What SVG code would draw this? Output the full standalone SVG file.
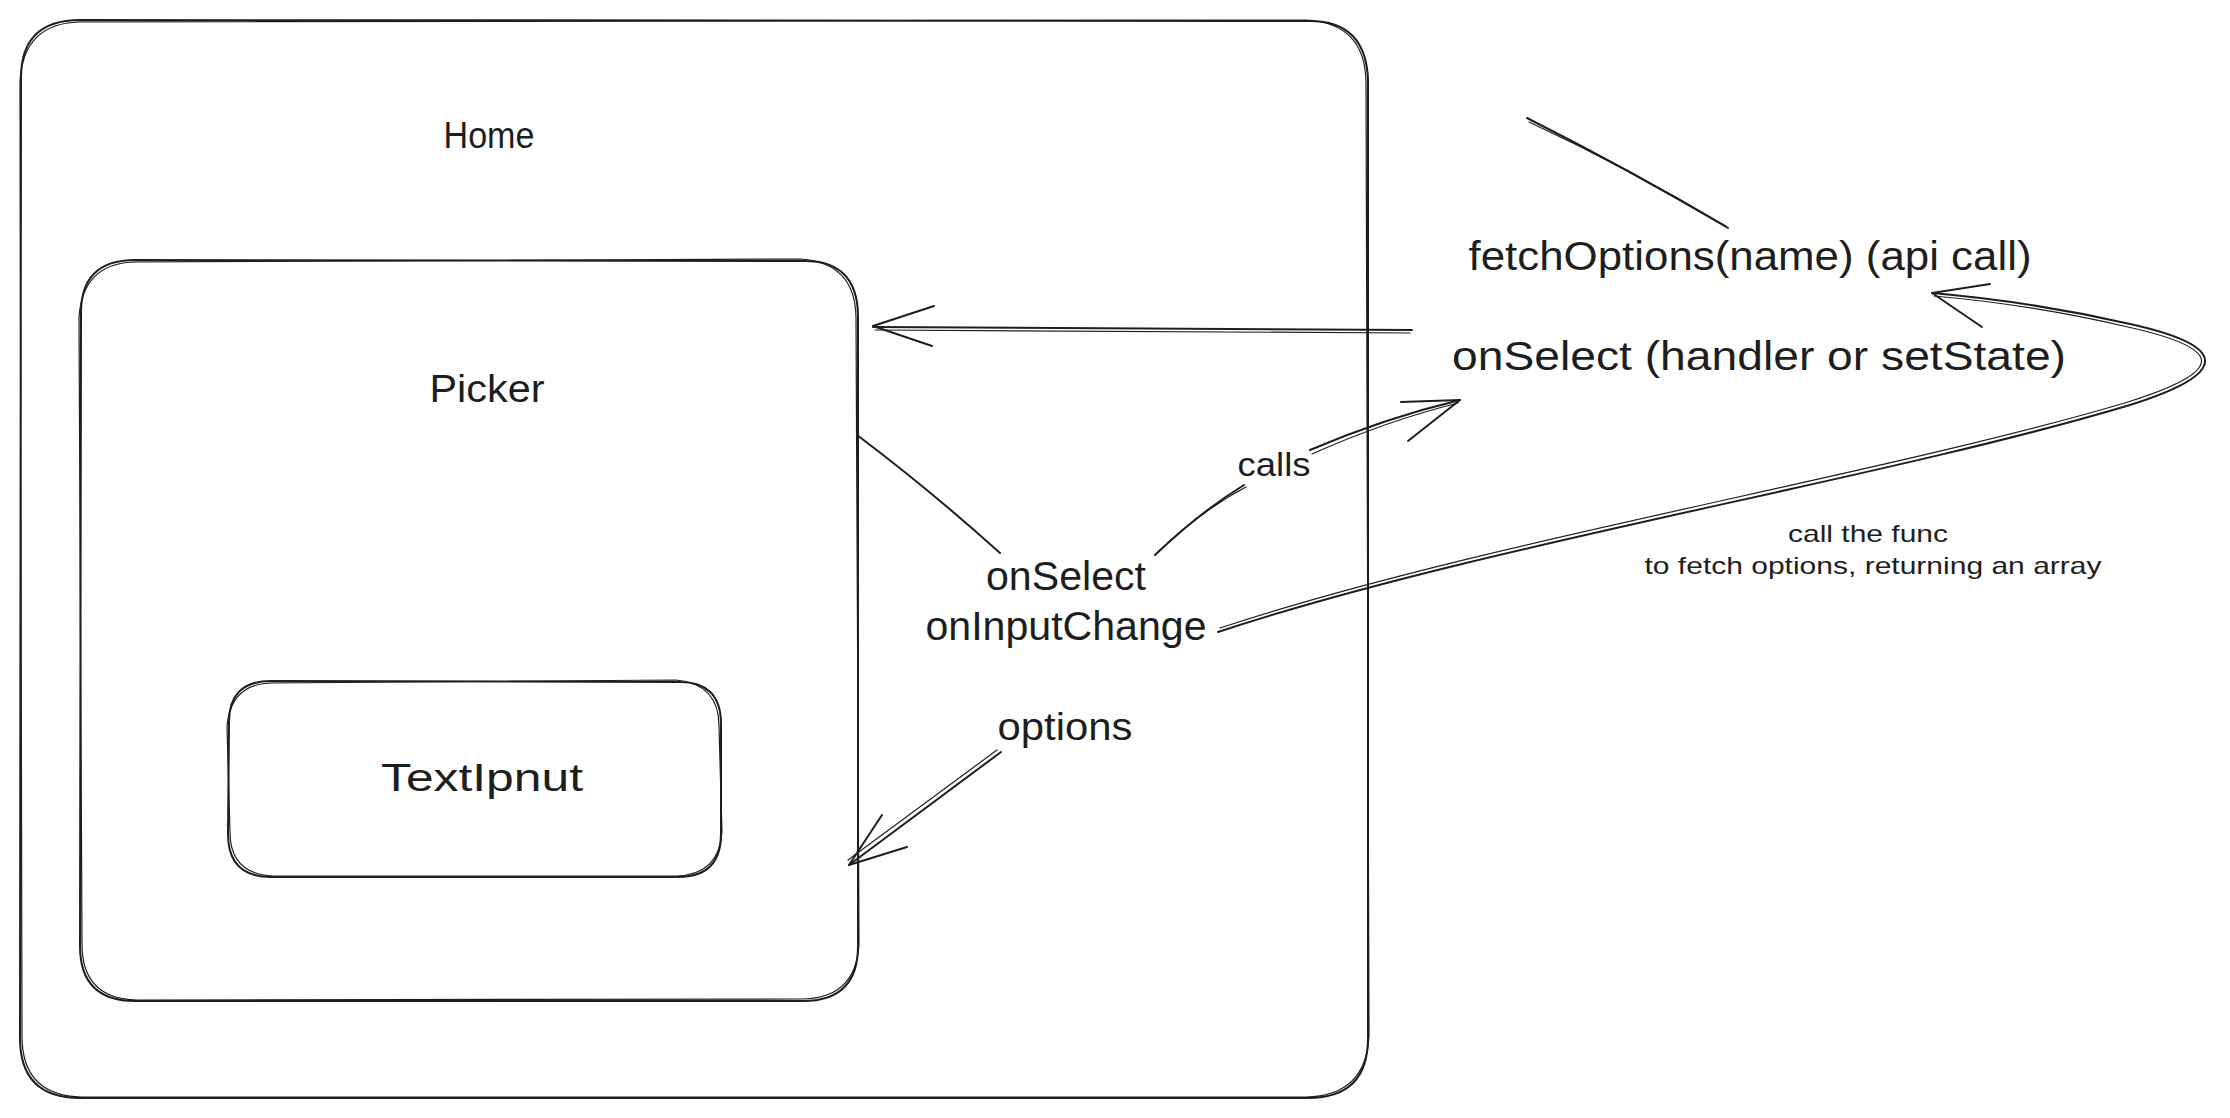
<svg xmlns="http://www.w3.org/2000/svg" width="2230" height="1118" viewBox="0 0 2230 1118">
<style>
.sk{fill:none;stroke:#1e1e1e;stroke-width:2;stroke-linecap:round;stroke-linejoin:round}
.sk2{fill:none;stroke:#1e1e1e;stroke-width:1.2;stroke-linecap:round;stroke-linejoin:round}
.t{font-family:"Liberation Sans","DejaVu Sans",sans-serif;fill:#1e1e1e;text-anchor:middle}
</style>
<rect width="2230" height="1118" fill="#ffffff"/>
<g id="home">
<path class="sk" d="M80 20 L1308 21 Q1366 20 1368 80 L1368 1038 Q1368 1098 1308 1098 L80 1098 Q20 1098 20 1038 L21 80 Q20 20 80 20 Z"/>
<path class="sk2" d="M82 22 L1306 20 Q1365 23 1366 82 L1369 1036 Q1366 1096 1306 1097 L82 1097 Q22 1096 22 1036 L20 82 Q23 22 82 22 Z"/>
<text class="t" x="489" y="148" font-size="36" textLength="91" lengthAdjust="spacingAndGlyphs">Home</text>
</g>
<g id="picker">
<path class="sk" d="M135 260 L803 261 Q857 260 858 315 L858 946 Q858 1001 803 1001 L135 1001 Q80 1001 80 946 L81 315 Q80 260 135 260 Z"/>
<path class="sk2" d="M137 262 L801 259 Q855 263 856 317 L859 944 Q856 999 801 999 L137 1000 Q82 999 82 944 L79 317 Q83 262 137 262 Z"/>
<text class="t" x="487" y="402" font-size="38" textLength="115" lengthAdjust="spacingAndGlyphs">Picker</text>
</g>
<g id="textinput">
<path class="sk" d="M271 681 L678 682 Q721 681 721 724 L721 834 Q721 877 678 877 L271 877 Q228 877 228 834 L229 724 Q228 681 271 681 Z"/>
<path class="sk2" d="M273 683 L676 680 Q719 684 719 726 L722 832 Q719 875 676 876 L273 876 Q230 874 230 832 L227 726 Q231 683 273 683 Z"/>
<text class="t" x="482" y="791" font-size="38" textLength="202" lengthAdjust="spacingAndGlyphs">TextIpnut</text>
</g>
<g id="fetchoptions">
<text class="t" x="1750" y="270" font-size="40" textLength="563" lengthAdjust="spacingAndGlyphs">fetchOptions(name) (api call)</text>
</g>
<g id="onselect-handler">
<text class="t" x="1759" y="370" font-size="40" textLength="614" lengthAdjust="spacingAndGlyphs">onSelect (handler or setState)</text>
</g>
<g id="props">
<text class="t" x="1066" y="590" font-size="40" textLength="160" lengthAdjust="spacingAndGlyphs">onSelect</text>
<text class="t" x="1066" y="640" font-size="40" textLength="281" lengthAdjust="spacingAndGlyphs">onInputChange</text>
</g>
<g id="note">
<text class="t" x="1868" y="542" font-size="24" textLength="160" lengthAdjust="spacingAndGlyphs">call the func</text>
<text class="t" x="1873" y="574" font-size="24" textLength="457" lengthAdjust="spacingAndGlyphs">to fetch options, returning an array</text>
</g>
<g id="connectors">
<path class="sk" d="M857 435 Q930 490 1000 553"/>
<path class="sk" d="M1155 555 Q1200 512 1244 485"/>
<path class="sk2" d="M1157 553 Q1202 510 1246 487"/>
<path class="sk" d="M1310 450 Q1385 418 1460 400"/>
<path class="sk2" d="M1312 454 Q1386 421 1458 403"/>
<path class="sk" d="M1401 402 L1460 400 L1408 441"/>
<text class="t" x="1274" y="476" font-size="34" textLength="73" lengthAdjust="spacingAndGlyphs">calls</text>
<path class="sk" d="M1218 632 C1480 545 1880 480 2130 405 C2235 372 2225 345 2130 324 C2060 308 1990 298 1932 293"/>
<path class="sk2" d="M1220 628 C1482 541 1880 476 2128 402 C2230 370 2222 348 2128 327 C2060 311 1990 301 1934 296"/>
<path class="sk" d="M1990 284 L1932 293 L1982 327"/>
<path class="sk" d="M1412 330 L873 327"/>
<path class="sk2" d="M1410 333 L875 330"/>
<path class="sk" d="M934 306 L873 326 L932 346"/>
<path class="sk" d="M1728 228 Q1630 170 1527 118"/>
<path class="sk2" d="M1726 226 Q1628 168 1529 122"/>
<path class="sk" d="M1001 752 L849 865"/>
<path class="sk2" d="M997 750 L848 860"/>
<path class="sk" d="M882 815 L849 865 L907 847"/>
<text class="t" x="1065" y="740" font-size="38" textLength="135" lengthAdjust="spacingAndGlyphs">options</text>
</g>
</svg>
